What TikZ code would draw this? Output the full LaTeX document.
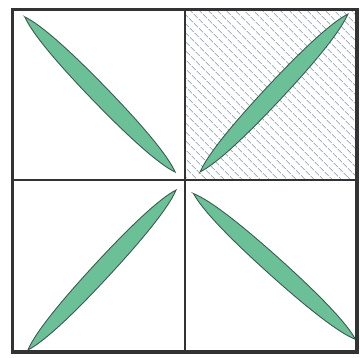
\documentclass[tikz,border=0pt]{standalone}
\usepackage{tikz}
\usetikzlibrary{patterns.meta}

\definecolor{leafgreen}{RGB}{108,192,152}
\definecolor{leafedge}{RGB}{60,90,80}
\definecolor{hatchblue}{RGB}{165,178,200}

\newcommand{\leaf}[3]{% center, angle, half length
  \begin{scope}[shift={#1}, rotate=#2]
    \path[leaf] (-#3,0) .. controls (-0.85*#3,6) and (-0.5*#3,9) .. (0,9)
      .. controls (0.5*#3,9) and (0.85*#3,6) .. (#3,0)
      .. controls (0.85*#3,-6) and (0.5*#3,-9) .. (0,-9)
      .. controls (-0.5*#3,-9) and (-0.85*#3,-6) .. cycle;
  \end{scope}}

\begin{document}
\begin{tikzpicture}[
  x=1pt, y=1pt,
  leaf/.style={fill=leafgreen, draw=leafedge, line width=0.9pt},
  frame/.style={draw=black!80, line width=3.5pt},
  divider/.style={draw=black!80, line width=1.3pt},
  hatch/.style={pattern={Lines[angle=-45, distance=6.5pt, line width=1pt]}, pattern color=hatchblue}
]
  \useasboundingbox (0,0) rectangle (360,358);
  % shaded quadrant
  \path[hatch] (185,178) rectangle (357,348.5);
  % leaves
  \leaf{(100,263.5)}{-45.9}{108}
  \leaf{(274,265)}{46.9}{108}
  \leaf{(102,88)}{47.2}{109}
  \leaf{(274.5,91.5)}{-42}{109}
  % grid
  \draw[divider] (185,6) -- (185,348.5);
  \draw[divider] (12.5,178) -- (357,178);
  \draw[frame] (12.5,6) rectangle (357,348.5);
\end{tikzpicture}
\end{document}
